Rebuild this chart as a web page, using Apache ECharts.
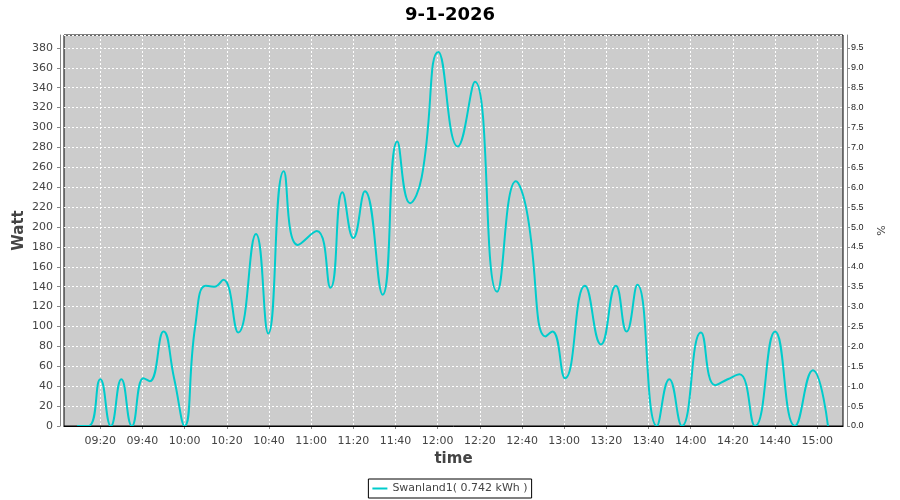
<!DOCTYPE html>
<html>
<head>
<meta charset="utf-8">
<script src="https://cdn.jsdelivr.net/npm/echarts@6/dist/echarts.min.js"></script>
<style>
  html, body { margin: 0; padding: 0; background: #fff; }
  #chart { width: 900px; height: 500px; }
</style>
</head>
<body>
<div id="chart"></div>
<script>
// readings of the curve (time of day, W)
const times = [
  '09:09:00', '09:14:30', '09:20:00', '09:25:00', '09:30:00', '09:35:00', '09:40:30', '09:43:30',
  '09:50:00', '09:55:00', '10:00:00', '10:05:00', '10:10:00', '10:14:00', '10:18:20', '10:25:25',
  '10:33:50', '10:39:40', '10:47:00', '10:53:40', '11:02:40', '11:09:10', '11:14:50', '11:20:00',
  '11:25:30', '11:33:55', '11:40:50', '11:46:55', '11:52:25', '12:00:20', '12:09:30', '12:17:40',
  '12:28:10', '12:37:05', '12:42:10', '12:51:10', '12:54:25', '13:00:25', '13:09:50', '13:17:25',
  '13:24:30', '13:29:35', '13:34:40', '13:43:55', '13:49:50', '13:55:50', '14:04:50', '14:11:35',
  '14:17:30', '14:23:05', '14:30:30', '14:40:00', '14:49:25', '14:57:55', '15:05:05'
]
const watts = [
  0, 0, 47, 0, 47, 0, 48, 45,
  95, 48, 0, 100, 141, 140, 147, 94,
  193, 93, 256, 182, 196, 139, 235, 189,
  236, 132, 286, 224, 250, 376, 281, 346,
  135, 246, 217, 90, 95, 48, 141, 82,
  141, 95, 142, 0, 47, 0, 94, 41,
  47, 52, 0, 95, 0, 56, 0
]
const timeTicks = [
  '09:20', '09:40', '10:00', '10:20', '10:40', '11:00', '11:20', '11:40', '12:00',
  '12:20', '12:40', '13:00', '13:20', '13:40', '14:00', '14:20', '14:40', '15:00'
]
const seriesName = 'Swanland1( 0.742 kWh )'
const chartTitle = '9-1-2026'

const toMin = (s) => {
  const p = s.split(':').map(Number)
  return p[0] * 60 + p[1] + (p[2] || 0) / 60
}
const pad = (n) => (n < 10 ? '0' : '') + n
const fmtTime = (v) => pad(Math.floor(Math.round(v) / 60)) + ':' + pad(Math.round(v) % 60)

const tickMins = timeTicks.map(toMin)
const points = times.map((t, i) => [toMin(t), watts[i]])

const xMin = 542.8
const xMax = 912.2
const wattMax = 393
const pctMax = wattMax / 40
const textColor = '#444'
const axisGray = '#888'

const chart = echarts.init(document.getElementById('chart'), null, { renderer: 'canvas' })

chart.setOption({
  backgroundColor: '#fff',
  animation: false,
  title: {
    text: chartTitle,
    left: 'center',
    top: 1,
    textStyle: { fontFamily: 'DejaVu Sans', fontSize: 18, fontWeight: 'bold', color: '#000' }
  },
  legend: {
    data: [seriesName],
    left: 'center',
    bottom: 2,
    icon: 'rect',
    itemWidth: 15,
    itemHeight: 2,
    itemGap: 4,
    padding: [4, 4, 4, 4],
    borderColor: '#000',
    borderWidth: 1,
    borderRadius: 0,
    textStyle: { fontFamily: 'DejaVu Sans', fontSize: 11, color: textColor }
  },
  grid: {
    left: 64,
    right: 57,
    top: 35,
    bottom: 74,
    containLabel: false,
    outerBoundsMode: 'none',
    show: true,
    backgroundColor: '#cccccc',
    borderColor: '#000',
    borderWidth: 1
  },
  xAxis: [
    {
      type: 'value',
      min: xMin,
      max: xMax,
      offset: 4,
      name: 'time',
      nameLocation: 'middle',
      nameGap: 22,
      nameMoveOverlap: false,
      nameTextStyle: { fontFamily: 'DejaVu Sans', fontSize: 15, fontWeight: 'bold', color: textColor },
      axisLine: { show: true, lineStyle: { color: axisGray } },
      axisTick: { show: true, length: 3, customValues: tickMins, lineStyle: { color: axisGray } },
      axisLabel: {
        customValues: tickMins,
        margin: 6,
        fontFamily: 'DejaVu Sans',
        fontSize: 11,
        color: textColor,
        formatter: fmtTime
      },
      splitLine: { show: true, lineStyle: { color: '#fff', type: [2, 2], width: 1 } }
    },
    {
      // plain top edge of the plot frame
      type: 'value',
      position: 'top',
      min: xMin,
      max: xMax,
      z: 5,
      axisLine: { show: true, lineStyle: { color: '#000', width: 1 } },
      axisTick: { show: false },
      axisLabel: { show: false },
      splitLine: { show: false }
    }
  ],
  yAxis: [
    {
      type: 'value',
      position: 'left',
      min: 0,
      max: wattMax,
      interval: 20,
      offset: 4,
      name: 'Watt',
      nameLocation: 'middle',
      nameGap: 33,
      nameMoveOverlap: false,
      nameTextStyle: { fontFamily: 'DejaVu Sans', fontSize: 15, fontWeight: 'bold', color: textColor },
      axisLine: { show: true, lineStyle: { color: axisGray } },
      axisTick: { show: true, length: 3, lineStyle: { color: axisGray } },
      axisLabel: {
        margin: 7,
        showMaxLabel: false,
        fontFamily: 'DejaVu Sans',
        fontSize: 11,
        color: textColor
      },
      splitLine: { show: true, lineStyle: { color: '#fff', type: [2, 2], width: 1 } }
    },
    {
      type: 'value',
      position: 'right',
      min: 0,
      max: pctMax,
      interval: 0.5,
      offset: 4,
      name: '%',
      nameLocation: 'middle',
      nameGap: 30,
      nameMoveOverlap: false,
      nameTextStyle: { fontFamily: 'DejaVu Sans', fontSize: 11, color: textColor },
      axisLine: { show: true, lineStyle: { color: axisGray } },
      axisTick: { show: true, length: 3, lineStyle: { color: axisGray } },
      axisLabel: {
        margin: 4,
        showMaxLabel: false,
        fontFamily: 'Liberation Sans',
        fontSize: 9,
        color: '#222',
        formatter: (v) => v.toFixed(1)
      },
      splitLine: { show: false }
    }
  ],
  series: [
    {
      name: seriesName,
      type: 'line',
      xAxisIndex: 0,
      yAxisIndex: 0,
      data: points,
      smooth: 0.5,
      showSymbol: false,
      clip: true,
      lineStyle: { color: '#00cccc', width: 2 },
      itemStyle: { color: '#00cccc' }
    }
  ]
})
</script>
</body>
</html>
